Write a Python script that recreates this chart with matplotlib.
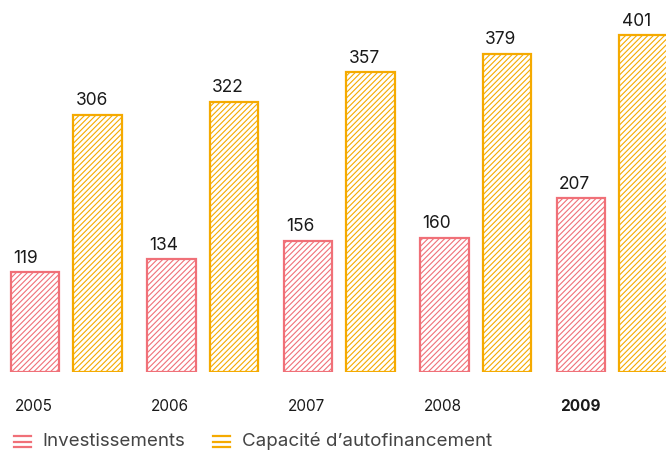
import matplotlib
matplotlib.use("Agg")
import matplotlib.pyplot as plt
import numpy as np
from matplotlib.lines import Line2D
from matplotlib.legend_handler import HandlerBase

years = ["2005", "2006", "2007", "2008", "2009"]
investissements = [119, 134, 156, 160, 207]
capacite = [306, 322, 357, 379, 401]
labels = ["Investissements", "Capacité d\u2019autofinancement"]

RED = "#F07078"
YELLOW = "#F5AA00"

plt.rcParams["font.family"] = ["Inter", "DejaVu Sans"]
plt.rcParams["hatch.linewidth"] = 0.8


class ThreeLines(HandlerBase):
    # legend icon: three short horizontal strokes
    def create_artists(self, legend, orig, xd, yd, w, h, fontsize, trans):
        col = orig.get_color()
        arts = []
        for f in (0.0, 0.5, 1.0):
            y = yd + h * f
            ln = Line2D([xd, xd + w], [y, y], color=col, lw=1.6, transform=trans)
            arts.append(ln)
        return arts


fig = plt.figure(figsize=(6.66, 4.5), dpi=100)
ax = fig.add_axes([0, 78 / 450, 1, 372 / 450])

x = np.arange(len(years))
w = 0.352
off = 0.458

b1 = ax.bar(x, investissements, w, facecolor="white", edgecolor=RED,
            hatch="//////", linewidth=1.6)
b2 = ax.bar(x + off, capacite, w, facecolor="white", edgecolor=YELLOW,
            hatch="//////", linewidth=1.6)

# value labels sit left-aligned on the bar's left edge
for xi, v in zip(x, investissements):
    ax.annotate(str(v), (xi - w / 2, v), xytext=(1.5, 4), textcoords="offset points",
                ha="left", va="bottom", fontsize=12.5, color="#1a1a1a")
for xi, v in zip(x + off, capacite):
    ax.annotate(str(v), (xi - w / 2, v), xytext=(1.5, 4), textcoords="offset points",
                ha="left", va="bottom", fontsize=12.5, color="#1a1a1a")

trans = ax.get_xaxis_transform()
for i, yr in enumerate(years):
    ax.annotate(yr, (x[i] - w / 2, -0.094), xycoords=trans, xytext=(2.5, 0),
                textcoords="offset points", ha="left", va="center",
                fontsize=11, color="#1a1a1a",
                fontweight="bold" if i == len(years) - 1 else "normal")

ax.set_xlim(-35 / 136.5, (666 - 35) / 136.5)
ax.set_ylim(0, 443)
ax.axis("off")

handles = [Line2D([], [], color=RED), Line2D([], [], color=YELLOW)]
fig.legend(handles, labels, loc="center left", bbox_to_anchor=(14 / 666, 9 / 450),
           ncol=2, frameon=False, fontsize=13.5, handler_map={Line2D: ThreeLines()},
           handlelength=0.9, handleheight=0.53, handletextpad=0.62, columnspacing=1.5,
           labelcolor="#444444", borderaxespad=0, borderpad=0)

fig.savefig("out.png", dpi=100)
